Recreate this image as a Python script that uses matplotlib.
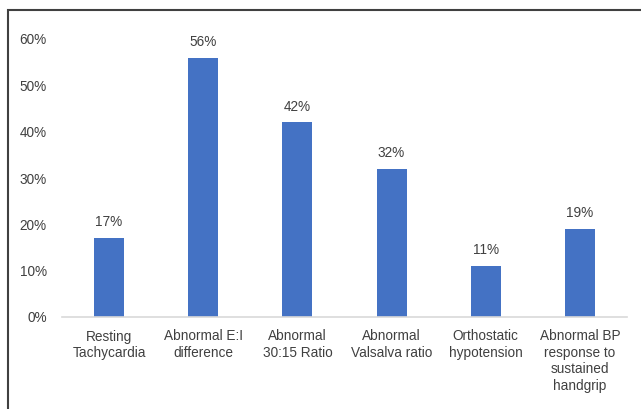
import matplotlib
matplotlib.use("Agg")
import matplotlib.pyplot as plt
from matplotlib.patches import Rectangle

plt.rcParams.update({"font.family": ["Liberation Sans", "DejaVu Sans"], "font.size": 9.8})

categories = ["Resting\nTachycardia", "Abnormal E:I\ndifference", "Abnormal\n30:15 Ratio",
              "Abnormal\nValsalva ratio", "Orthostatic\nhypotension",
              "Abnormal BP\nresponse to\nsustained\nhandgrip"]
values = [17, 56, 42, 32, 11, 19]
yticks = [0, 10, 20, 30, 40, 50, 60]

txt = "#404040"
fig = plt.figure(figsize=(6.41, 4.09), dpi=100)
ax = fig.add_axes([62/641, 1-317/409, (627-62)/641, (317-39)/409])
x = range(len(values))
ax.bar(x, values, width=0.32, color="#4472C4", zorder=2)
for i, v in zip(x, values):
    ax.text(i, v + 1.9, f"{v}%", ha="center", va="bottom", color=txt)
ax.set_xlim(-0.5, len(values) - 0.5)
ax.set_ylim(0, 60)
ax.set_yticks(yticks)
ax.set_yticklabels([f"{t}%" for t in yticks], color=txt)
ax.set_xticks(list(x))
ax.set_xticklabels(categories, color=txt, linespacing=1.22)
ax.tick_params(length=0, pad=9)
ax.tick_params(axis="y", pad=11)
for s in ["top", "right", "left"]:
    ax.spines[s].set_visible(False)
ax.spines["bottom"].set_color("#d9d9d9")
ax.spines["bottom"].set_linewidth(1.2)

# outer frame (only left and top edges visible in the crop)
fig.patches.append(Rectangle((8/641, -0.1), 1.2, 1.1 - 10/409,
                             transform=fig.transFigure, fill=False,
                             edgecolor="#404040", linewidth=1.5))
fig.savefig("out.png", dpi=100)
